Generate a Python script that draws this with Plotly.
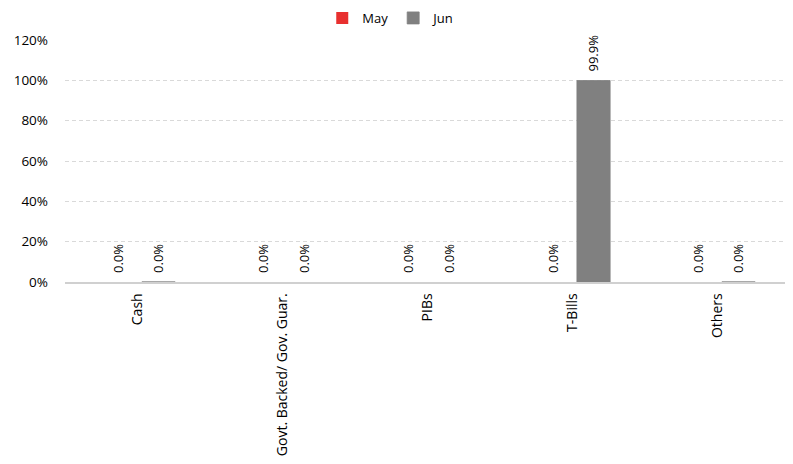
import plotly.graph_objects as go

categories = ["Cash", "Govt. Backed/ Gov. Guar.", "PIBs", "T-Bills", "Others"]
may_values = [0.0, 0.0, 0.0, 0.0, 0.0]
jun_values = [0.04, 0.0, 0.0, 99.9, 0.04]
y_ticks = [0, 20, 40, 60, 80, 100, 120]
y_tick_labels = ["0%", "20%", "40%", "60%", "80%", "100%", "120%"]

font_family = "Open Sans, sans-serif"
series = [("May", may_values, "#e8302f", -20), ("Jun", jun_values, "#808080", 21)]

fig = go.Figure()
annotations = []
for name, vals, color, shift in series:
    fig.add_trace(go.Bar(
        name=name, x=categories, y=vals,
        marker=dict(color=color,
                    line=dict(color=color, width=[0.8 if v > 0 else 0 for v in vals])),
        cliponaxis=False,
    ))
    for cat, v in zip(categories, vals):
        annotations.append(dict(
            x=cat, y=v, xref="x", yref="y", xshift=shift, yshift=7,
            text=f"{v:.1f}%", textangle=-90, showarrow=False,
            xanchor="center", yanchor="bottom",
            font=dict(size=13, color="#000000", family=font_family),
        ))

# page body has an 8px margin, so the figure is drawn 8px smaller and offset
fig.update_layout(
    width=785, height=456,
    margin=dict(l=57, r=3, t=32, b=182, autoexpand=False),
    paper_bgcolor="white", plot_bgcolor="white",
    barmode="group", bargap=0.42, bargroupgap=0.21,
    font=dict(family=font_family, size=13, color="#000000"),
    legend=dict(orientation="h", x=0.45, xanchor="center", y=1.091, yanchor="middle",
                font=dict(size=13), traceorder="normal", itemwidth=30,
                tracegroupgap=0, itemclick=False),
    annotations=annotations,
)
fig.update_yaxes(
    range=[0, 120], tickvals=y_ticks, ticktext=y_tick_labels,
    showgrid=True, gridcolor="#d9d9d9", griddash="4px,3px", gridwidth=1,
    zeroline=False, showline=False, ticks="", ticklabelstandoff=16,
    tickfont=dict(size=13.5), automargin=False,
)
fig.update_xaxes(
    tickangle=-90, showline=True, linecolor="#d0d0d0", linewidth=1.5,
    ticks="", tickfont=dict(size=14), automargin=False, ticklabelstandoff=4,
)

fig.write_html("out.html")
